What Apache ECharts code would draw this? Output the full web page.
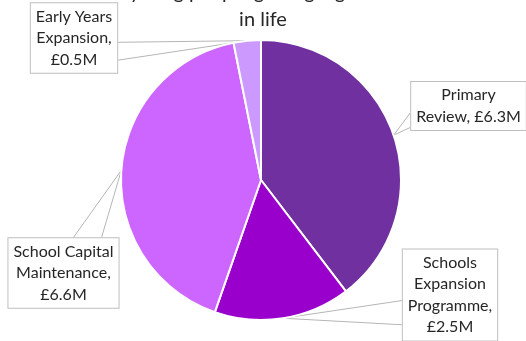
<!DOCTYPE html>
<html>
<head>
<meta charset="utf-8">
<script src="https://cdn.jsdelivr.net/npm/echarts@6/dist/echarts.min.js"></script>
<style>
  html, body { margin: 0; padding: 0; background: #fff; }
  #chart { width: 526px; height: 341px; }
</style>
</head>
<body>
<div id="chart"></div>
<script>
// Capital programme spend by scheme (£ million)
const categories = ['Primary Review', 'Schools Expansion Programme', 'School Capital Maintenance', 'Early Years Expansion'];
const valuesM = [6.3, 2.5, 6.6, 0.5];
const sliceColors = ['#7030A0', '#9900CC', '#CC66FF', '#CC99FF'];
// Callout text; {v} is replaced by the slice value
const calloutText = [
  'Primary\nReview, {v}',
  'Schools\nExpansion\nProgramme,\n{v}',
  'School Capital\nMaintenance,\n{v}',
  'Early Years\nExpansion,\n{v}'
];
const titleText = 'All young people getting a good start\nin life';

// Callout box placement: centre, the side the pointer leaves from,
// and where along that side the pointer's two edges meet the box.
const callouts = [
  { x: 468.5, y: 106, side: 'left',  f: [0.64, 0.93] },
  { x: 450, y: 295, side: 'left',  f: [0.56, 0.82] },
  { x: 63.5, y: 273, side: 'top', f: [0.59, 0.84] },
  { x: 74,  y: 38,  side: 'right', f: [0.56, 0.81] }
];

const chart = echarts.init(document.getElementById('chart'), null, { renderer: 'canvas' });

chart.setOption({
  animation: false,
  title: {
    text: titleText,
    left: 'center',
    top: -21,
    padding: 0,
    textStyle: {
      fontFamily: 'Lato',
      fontSize: 20,
      fontWeight: 'normal',
      color: '#262626',
      lineHeight: 27
    }
  },
  series: [{
    type: 'pie',
    center: [261, 180],
    radius: 140,
    startAngle: 90,
    clockwise: true,
    avoidLabelOverlap: false,
    silent: true,
    data: categories.map((name, i) => ({
      name: name,
      value: valuesM[i],
      itemStyle: { color: sliceColors[i] }
    })),
    itemStyle: { borderColor: '#ffffff', borderWidth: 2 },
    label: {
      show: true,
      position: 'outside',
      formatter: p => calloutText[p.dataIndex].replace('{v}', '£' + p.value.toFixed(1) + 'M'),
      fontFamily: 'Lato',
      fontSize: 16,
      lineHeight: 21.5,
      color: '#262626',
      align: 'center',
      backgroundColor: '#ffffff',
      borderColor: '#BFBFBF',
      borderWidth: 1,
      padding: [3, 5, 2, 5]
    },
    labelLine: {
      show: true,
      length: 10,
      length2: 10,
      lineStyle: { color: '#B5B5B5', width: 1 }
    },
    labelLayout: function (p) {
      const c = callouts[p.dataIndex];
      const w = p.labelRect.width, h = p.labelRect.height;
      const left = c.x - w / 2, top = c.y - h / 2;
      let a, b;
      if (c.side === 'left') {
        a = [left, top + h * c.f[0]]; b = [left, top + h * c.f[1]];
      } else if (c.side === 'right') {
        a = [left + w, top + h * c.f[0]]; b = [left + w, top + h * c.f[1]];
      } else {
        a = [left + w * c.f[0], top]; b = [left + w * c.f[1], top];
      }
      const out = { x: c.x, y: c.y, align: 'center', verticalAlign: 'middle' };
      if (p.labelLinePoints) {
        out.labelLinePoints = [a, p.labelLinePoints[0], b];
      }
      return out;
    }
  }]
});
</script>
</body>
</html>
